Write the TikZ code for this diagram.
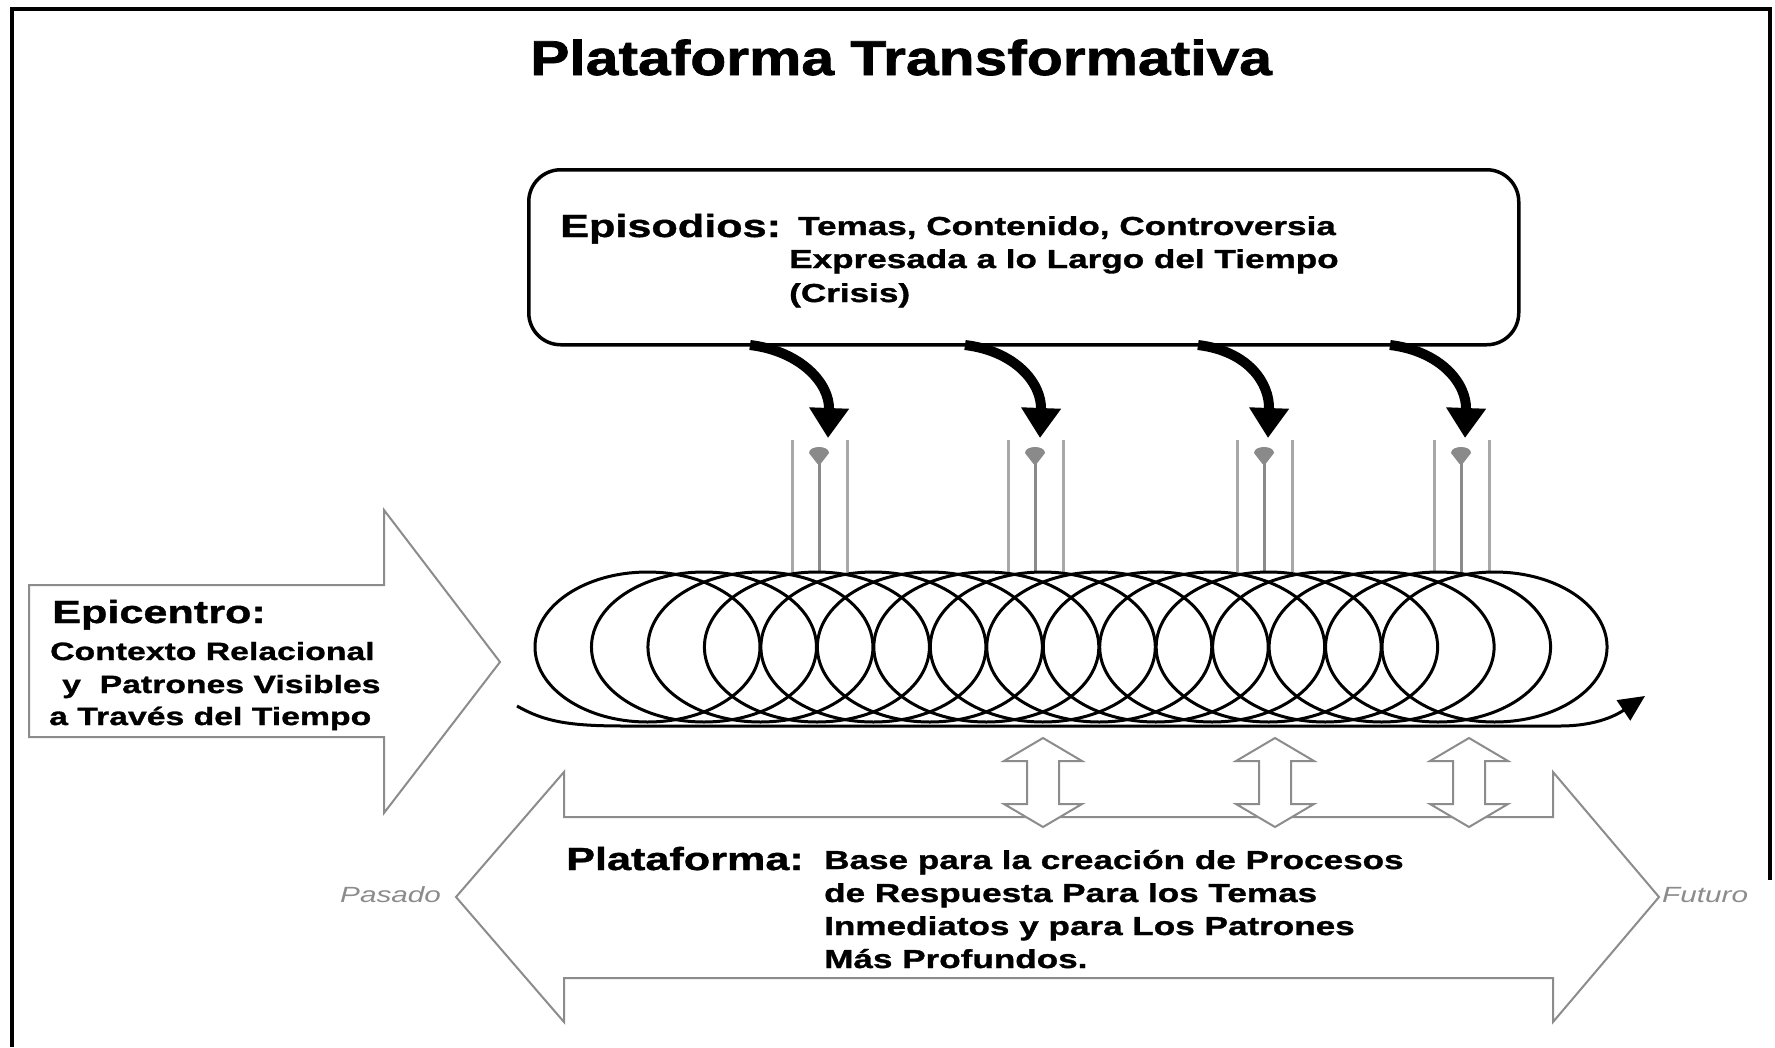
\documentclass[tikz,border=0pt]{standalone}
\usepackage{fontspec}
\setmainfont{Liberation Sans}[FakeStretch=1.35, BoldFeatures={FakeBold=1.2}]
\newfontfamily\titlefont{Liberation Sans}[FakeStretch=1.2, BoldFeatures={FakeBold=1.5}]
\usetikzlibrary{arrows.meta}
\definecolor{og}{HTML}{8C8C8C}
\definecolor{gl}{HTML}{A8A8A8}
\definecolor{gd}{HTML}{8A8A8A}
\begin{document}
\begin{tikzpicture}[x=1pt,y=-1pt,
  txt/.style={inner sep=0pt, anchor=base west},
  titlet/.style={txt, font=\titlefont\bfseries\fontsize{49}{54}\selectfont},
  bigt/.style={txt, font=\bfseries\fontsize{32}{36}\selectfont},
  body/.style={txt, font=\bfseries\fontsize{26}{30}\selectfont},
  epib/.style={txt, font=\bfseries\fontsize{25}{30}\selectfont},
  timet/.style={txt, font=\itshape\fontsize{22}{26}\selectfont, text=og},
  outl/.style={draw=og, line width=2pt, line join=miter},
  carrow/.style={line width=10pt, -{Triangle[length=30pt,width=38pt]}},
  coil/.style={line width=3pt},
  glight/.style={draw=gl, line width=3pt},
  gdark/.style={draw=gd, line width=3pt}
]
\useasboundingbox (0,0) rectangle (1775,1047);
\fill[white] (0,0) rectangle (1775,1047);

% frame
\draw[line width=4pt] (12,1047) -- (12,8.5) -- (1769.5,8.5) -- (1769.5,880);

% title
\node[titlet] (title) at (530,75) {Plataforma Transformativa};

% episodios box
\node[draw, line width=3.5pt, rounded corners=32pt, minimum width=990pt,
      minimum height=175pt, anchor=north west, inner sep=0pt] (epibox) at (527,168) {};
\node[bigt] (epititle) at (560,237) {Episodios:};
\node[body] (epi1) at (798,235) {Temas, Contenido, Controversia};
\node[body] (epi2) at (789,268) {Expresada a lo Largo del Tiempo};
\node[body] (epi3) at (789,302) {(Crisis)};

% platform double arrow
\draw[outl] (456,897) -- (564,772) -- (564,817) -- (1553,817) -- (1553,772)
  -- (1659,897) -- (1553,1022) -- (1553,978) -- (564,978) -- (564,1022) -- cycle;

% small double arrows
\foreach \c [count=\k] in {1043,1275,1469} {
  \draw[outl, fill=white] (\c,738) -- (\c+39,761) -- (\c+16,761) -- (\c+16,804)
    -- (\c+39,804) -- (\c,827) -- (\c-39,804) -- (\c-16,804) -- (\c-16,761)
    -- (\c-39,761) -- cycle;
}

% epicentro arrow
\draw[outl] (29,585) -- (384,585) -- (384,510) -- (500,662) -- (384,813)
  -- (384,737) -- (29,737) -- cycle;
\node[bigt] (epictitle) at (52,623) {Epicentro:};
\node[epib] (epic1) at (50,660) {Contexto Relacional};
\node[epib] (epic2) at (62,693) {y\ \ Patrones Visibles};
\node[epib] (epic3) at (49,725) {a Través del Tiempo};

% platform text
\node[bigt] (plattitle) at (566,870) {Plataforma:};
\node[body] (plat1) at (824,869) {Base para la creación de Procesos};
\node[body] (plat2) at (824,902) {de Respuesta Para los Temas};
\node[body] (plat3) at (824,935) {Inmediatos y para Los Patrones};
\node[body] (plat4) at (824,968) {Más Profundos.};
\node[timet] (pasado) at (340,902) {Pasado};
\node[timet] (futuro) at (1662,902) {Futuro};

% gray connector groups
\foreach \c [count=\k] in {819,1035,1264,1461} {
  \coordinate (gt\k) at (\c,447);
  \coordinate (gb\k) at (\c,572);
  \draw[glight] (\c-27,440) -- (\c-27,572);
  \draw[glight] (\c+28,440) -- (\c+28,572);
  \draw[gdark] (gt\k) -- (gb\k);
  \fill[gd] (\c-10,453) .. controls (\c-10,445) and (\c+10,445) .. (\c+10,453)
    -- (\c+1.5,464) -- (\c-1.5,464) -- cycle;
}

% curved arrows from the box
\foreach \s/\e [count=\k] in {750/828, 965/1040, 1198/1268, 1390/1465} {
  \coordinate (as\k) at (\s,345);
  \coordinate (ae\k) at (\e,438);
  \draw[carrow] (as\k) .. controls +(50,6) and +(2,-55) .. (ae\k);
}

% coil
\foreach \i in {0,...,15} {
  \draw[coil] ({647.5+56.47*\i},647) ellipse [x radius=112.5pt, y radius=75pt];
}
\coordinate (bl) at (517,706);
\coordinate (br) at (1645,696);
\draw[coil, -{Triangle[length=26pt,width=24pt]}] (bl) .. controls (545,722) and (570,726) .. (625,726)
  -- (1560,726) .. controls (1598,726) and (1618,714) .. (br);
\end{tikzpicture}
\end{document}
